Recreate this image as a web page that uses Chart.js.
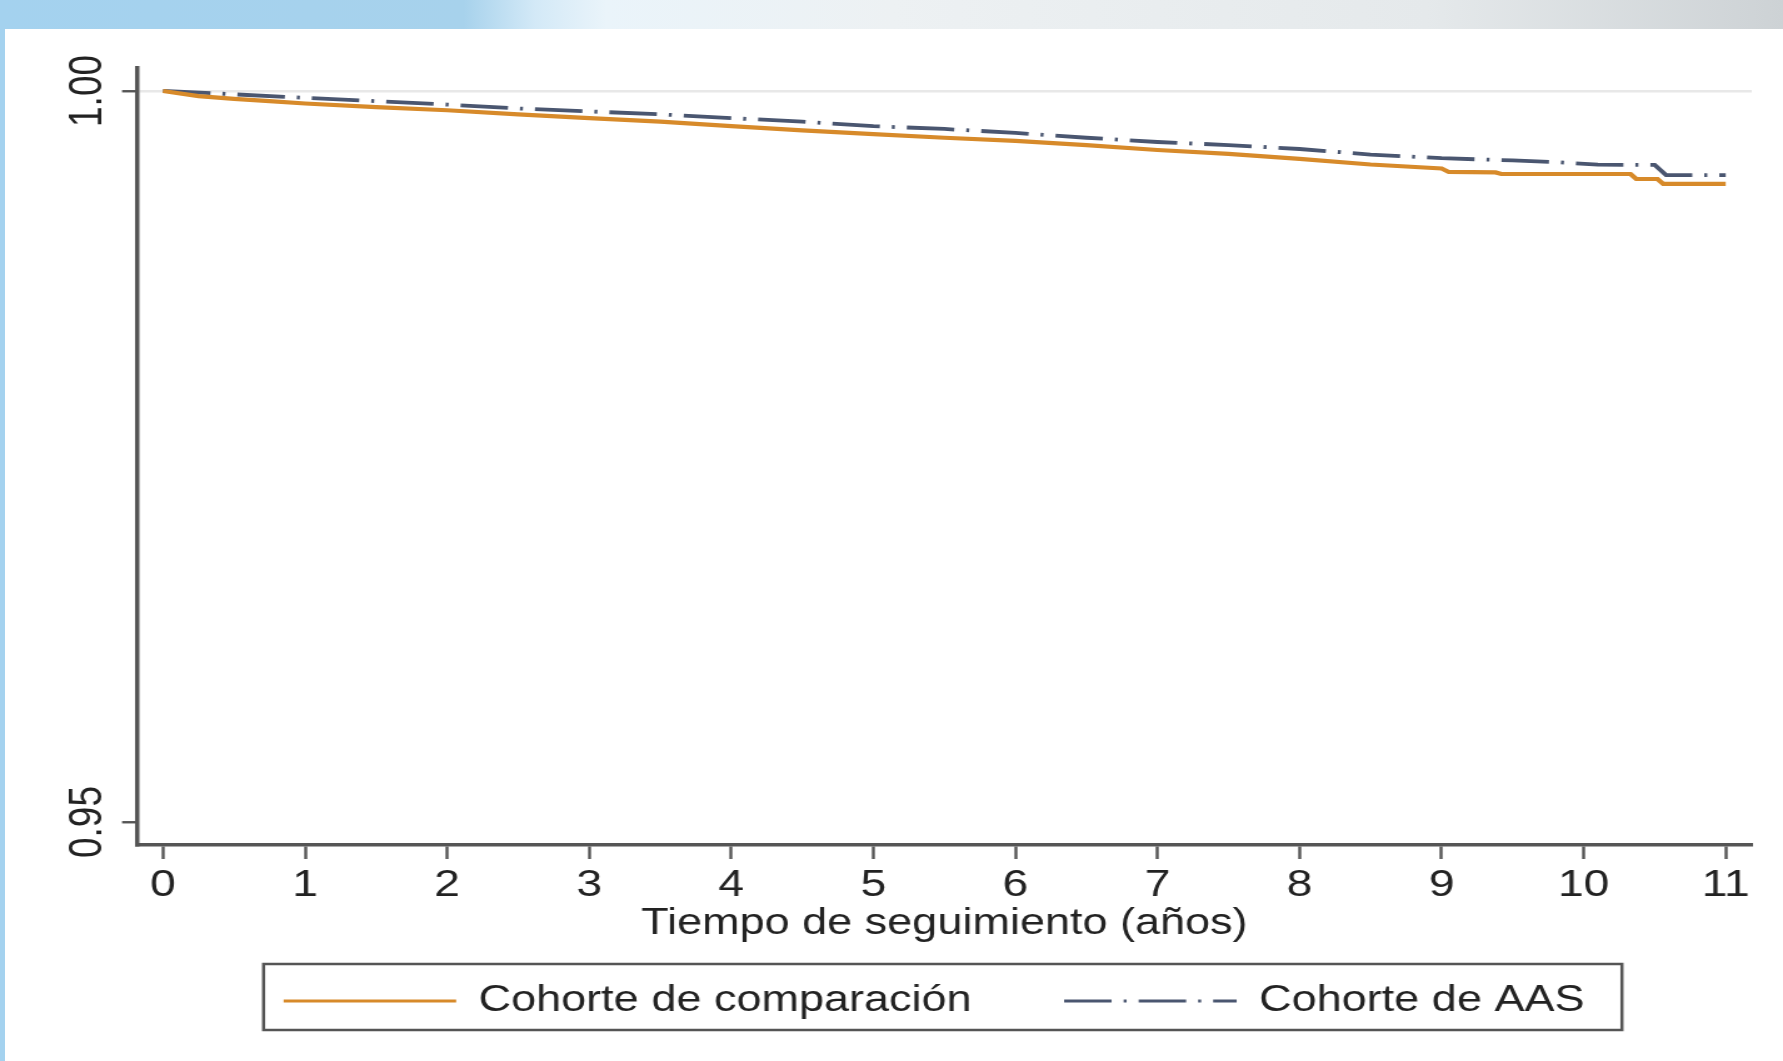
<!DOCTYPE html>
<html>
<head>
<meta charset="utf-8">
<title>Supervivencia - Cohorte de AAS</title>
<script src="https://cdn.jsdelivr.net/npm/chart.js@4.4.1/dist/chart.umd.min.js"></script>
<style>
	html, body { margin: 0; padding: 0; background: #ffffff; }
	body { width: 1783px; height: 1061px; position: relative; overflow: hidden; }
	/* slide decoration: top band and left strip */
	#band {
		position: absolute; left: 0; top: 0; width: 1783px; height: 29px;
		background: linear-gradient(to right, #a4d2ef 0%, #a7d2ec 26%, #d3e9f7 30%, #eaf4fa 34%, #edf1f3 50%, #e5e9eb 80%, #cdd2d5 100%);
	}
	#strip { position: absolute; left: 0; top: 29px; width: 5px; height: 1032px; background: #a4d2ef; }
	/* the source picture is stretched horizontally, so the chart is drawn narrow and scaled */
	#wrap {
		position: absolute; left: 0; top: 0; width: 1426px; height: 1061px;
		transform: scaleX(1.25035); transform-origin: 0 0;
	}
</style>
</head>
<body>
<div id="band"></div>
<div id="wrap"><canvas id="km-chart"></canvas></div>
<div id="strip"></div>
<script>
// Data
const seriesLabels = ["Cohorte de comparación", "Cohorte de AAS"];
const xTitle = "Tiempo de seguimiento (años)";
const xTicks = [0, 1, 2, 3, 4, 5, 6, 7, 8, 9, 10, 11];
const yTicks = [0.95, 1.00];

const compTimes = [0, 0.25, 0.5, 0.75, 1, 1.5, 2, 2.5, 3, 3.5, 4, 4.5, 5, 5.5, 6, 6.5, 7, 7.5,
	8, 8.5, 9.0, 9.05, 9.38, 9.42, 10.33, 10.37, 10.52, 10.56, 11];
const compValues = [1.0000, 0.99965, 0.99946, 0.9993, 0.99914, 0.9989, 0.99868, 0.9984, 0.99814, 0.9979, 0.99759, 0.9973, 0.99705, 0.9968, 0.99658, 0.9963, 0.99596, 0.9957,
	0.99535, 0.99497, 0.9947, 0.99446, 0.99443, 0.99432, 0.99432, 0.99398, 0.99398, 0.99364, 0.99364];

const aasTimes = [0, 0.5, 1, 1.5, 2, 2.5, 3, 3.5, 4, 4.5, 5, 5.5, 6, 6.5, 7, 7.5,
	8, 8.5, 9.0, 9.5, 9.8, 10.1, 10.5, 10.58, 11];
const aasValues = [1.0000, 0.99977, 0.99953, 0.9993, 0.99907, 0.9988, 0.99860, 0.9984, 0.99814, 0.9979, 0.99759, 0.9974, 0.99713, 0.9968, 0.99651, 0.9963,
	0.99603, 0.99565, 0.9954, 0.99525, 0.99514, 0.99496, 0.99494, 0.99425, 0.99425];

const FONT = "'Liberation Sans', Arial, Helvetica, sans-serif";
const TEXT = "#222222";
const AXIS = "#555555";

// pair times and values for the linear x scale
function toPoints(times, values) {
	return times.map(function(t, i) { return {x: t, y: values[i]}; });
}

// Plugin: place the legend under the axis title and draw its frame
const legendFrame = {
	id: "legendFrame",
	afterLayout(chart) {
		var lg = chart.legend;
		lg.left = 74;
		lg.right = 1420;
		lg.top = 909;
		lg.bottom = 909 + lg.height;
	},
	afterDraw(chart) {
		var lg = chart.legend;
		var boxes = lg.legendHitBoxes;
		if (!boxes || !boxes.length) return;
		var last = boxes[boxes.length - 1];
		var midY = lg.top + lg.options.labels.padding + 18;
		var ctx = chart.ctx;
		ctx.save();
		ctx.strokeStyle = AXIS;
		ctx.lineWidth = 2.5;
		ctx.strokeRect(boxes[0].left - 16, midY - 37, last.left + last.width + 30 - (boxes[0].left - 16), 66);
		ctx.restore();
	}
};

Chart.defaults.font.family = FONT;
Chart.defaults.color = TEXT;

var canvas = document.getElementById("km-chart");
var kmChart = new Chart(canvas, {
	type: "line",
	data: {
		datasets: [{
			label: seriesLabels[0],
			data: toPoints(compTimes, compValues),
			borderColor: "#d78a2a",
			backgroundColor: "#d78a2a",
			borderWidth: 4.2,
			pointRadius: 0,
			tension: 0,
			fill: false
		}, {
			label: seriesLabels[1],
			data: toPoints(aasTimes, aasValues),
			borderColor: "#4a5670",
			backgroundColor: "#4a5670",
			borderWidth: 3.8,
			borderDash: [38, 9.6, 2.4, 9.6],
			pointRadius: 0,
			tension: 0,
			fill: false
		}]
	},
	options: {
		responsive: true,
		maintainAspectRatio: false,
		animation: false,
		devicePixelRatio: 1,
		layout: { padding: { left: 0, right: 25, top: 68, bottom: 0 } },
		plugins: {
			tooltip: { enabled: false },
			legend: {
				display: true,
				position: "bottom",
				labels: {
					usePointStyle: true,
					pointStyle: "line",
					pointStyleWidth: 138,
					boxWidth: 138,
					padding: 74,
					color: TEXT,
					font: { family: FONT, size: 36 },
					// copy the line style of each dataset into its legend sample
					generateLabels: function(chart) {
						var items = Chart.defaults.plugins.legend.labels.generateLabels(chart);
						items.forEach(function(item) {
							var ds = chart.data.datasets[item.datasetIndex];
							item.lineDash = ds.borderDash || [];
							item.lineWidth = 3.2;
							item.strokeStyle = ds.borderColor;
							item.pointStyle = "line";
						});
						return items;
					}
				}
			}
		},
		scales: {
			x: {
				type: "linear",
				min: -0.183,
				max: 11.183,
				afterBuildTicks: function(scale) {
					scale.ticks = xTicks.map(function(v) { return {value: v}; });
				},
				afterFit: function(scale) { scale.height = 96; },
				ticks: {
					autoSkip: false,
					maxRotation: 0,
					padding: 5,
					color: TEXT,
					font: { family: FONT, size: 37 },
					callback: function(v) { return String(v); }
				},
				grid: { drawOnChartArea: false, drawTicks: true, tickLength: 14, tickColor: AXIS, tickWidth: 2.4 },
				border: { display: true, color: AXIS, width: 3.5 },
				title: {
					display: true,
					text: xTitle,
					color: TEXT,
					font: { family: FONT, size: 36 },
					padding: { top: 0, bottom: -5 }
				}
			},
			y: {
				type: "linear",
				min: 0.94843,
				max: 1.00157,
				afterBuildTicks: function(scale) {
					scale.ticks = yTicks.map(function(v) { return {value: v}; });
				},
				afterFit: function(scale) { scale.width = 109.6; },
				ticks: {
					minRotation: 90,
					maxRotation: 90,
					crossAlign: "center",
					padding: -9.5,
					color: TEXT,
					font: { family: FONT, size: 37 },
					callback: function(v) { return Number(v).toFixed(2); }
				},
				grid: {
					color: function(c) { return (c.tick && c.tick.value === 1) ? "#e8e8e8" : "rgba(0,0,0,0)"; },
					lineWidth: 2.5,
					drawTicks: true,
					tickLength: 12,
					tickColor: AXIS,
					tickWidth: 2.4
				},
				border: { display: true, color: AXIS, width: 3.5 }
			}
		}
	},
	plugins: [legendFrame]
});
</script>
</body>
</html>
